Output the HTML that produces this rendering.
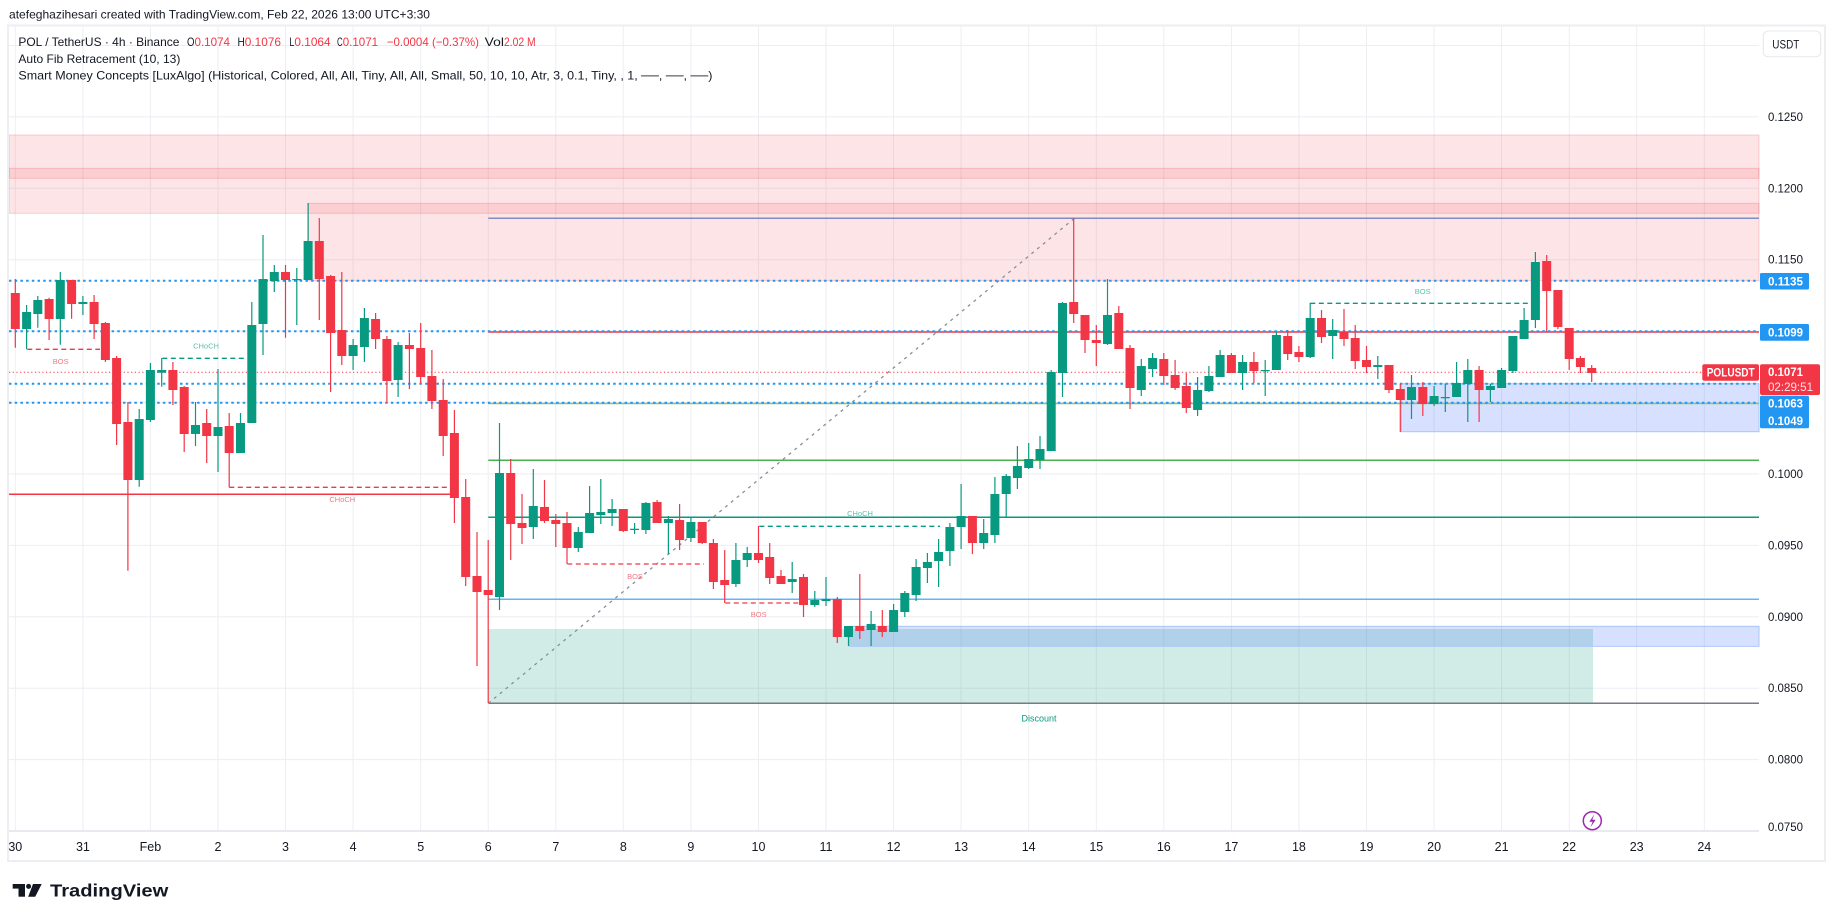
<!DOCTYPE html>
<html><head><meta charset="utf-8"><title>POLUSDT 4h chart</title>
<style>html,body{margin:0;padding:0;background:#fff;}svg{display:block;}</style>
</head><body>
<svg id="c" width="1835" height="921" viewBox="0 0 1835 921" xmlns="http://www.w3.org/2000/svg" font-family="'Liberation Sans', Arial, sans-serif">
<rect width="1835" height="921" fill="#ffffff"/>
<text x="9" y="18.5" font-size="12" fill="#131722" textLength="421" lengthAdjust="spacingAndGlyphs">atefeghazihesari created with TradingView.com, Feb 22, 2026 13:00 UTC+3:30</text>
<path stroke="#eceef2" stroke-width="1" fill="none" d="M15.3 26V831M82.9 26V831M150.4 26V831M218 26V831M285.5 26V831M353.1 26V831M420.7 26V831M488.2 26V831M555.8 26V831M623.3 26V831M690.9 26V831M758.5 26V831M826 26V831M893.6 26V831M961.1 26V831M1028.7 26V831M1096.3 26V831M1163.8 26V831M1231.4 26V831M1298.9 26V831M1366.5 26V831M1434.1 26V831M1501.6 26V831M1569.2 26V831M1636.7 26V831M1704.3 26V831"/>
<g stroke="#eceef2" stroke-width="1">
<line x1="9" x2="1759" y1="45.5" y2="45.5"/><line x1="9" x2="1759" y1="116.9" y2="116.9"/><line x1="9" x2="1759" y1="188.3" y2="188.3"/><line x1="9" x2="1759" y1="259.7" y2="259.7"/><line x1="9" x2="1759" y1="331.1" y2="331.1"/><line x1="9" x2="1759" y1="402.5" y2="402.5"/><line x1="9" x2="1759" y1="473.9" y2="473.9"/><line x1="9" x2="1759" y1="545.4" y2="545.4"/><line x1="9" x2="1759" y1="616.8" y2="616.8"/><line x1="9" x2="1759" y1="688.2" y2="688.2"/><line x1="9" x2="1759" y1="759.6" y2="759.6"/>
</g>
<line x1="9" x2="1759" y1="831" y2="831" stroke="#e0e3eb" stroke-width="1.5"/>
<g fill="rgba(242,54,69,0.13)" stroke="rgba(242,54,69,0.22)" stroke-width="1">
<rect x="9" y="135" width="1750" height="43.3"/>
<rect x="9" y="168.3" width="1750" height="45"/>
<rect x="308.3" y="203.3" width="1450.7" height="77.4"/>
</g>
<rect x="488.3" y="629" width="1104.7" height="74.3" fill="rgba(8,153,129,0.19)"/>
<g fill="rgba(41,98,255,0.19)" stroke="#a9c7f7" stroke-width="1">
<rect x="849.3" y="626.3" width="909.7" height="20"/>
<rect x="1401.3" y="383.7" width="357.7" height="48"/>
</g>
<g stroke-width="1.5">
<line x1="488.3" x2="1759" y1="218.3" y2="218.3" stroke="#7e8dc4"/>
<line x1="488.3" x2="1759" y1="332" y2="332" stroke="#F23645"/>
<line x1="488.3" x2="1759" y1="403.5" y2="403.5" stroke="#81c784"/>
<line x1="488.3" x2="1759" y1="460.3" y2="460.3" stroke="#4caf50"/>
<line x1="488.3" x2="1759" y1="517.3" y2="517.3" stroke="#089981"/>
<line x1="488.3" x2="1759" y1="599.3" y2="599.3" stroke="#64b5f6"/>
<line x1="488.3" x2="1759" y1="703.3" y2="703.3" stroke="#787b86"/>
</g>
<line x1="488.3" y1="703.3" x2="1074.3" y2="218.3" stroke="#8a8d96" stroke-width="1.3" stroke-dasharray="3 4.5"/>
<g stroke="#2196F3" stroke-width="2" stroke-dasharray="2.5 3.2">
<line x1="9" x2="1759" y1="280.7" y2="280.7"/>
<line x1="9" x2="1759" y1="331.3" y2="331.3"/>
<line x1="9" x2="1759" y1="383.7" y2="383.7"/>
<line x1="9" x2="1759" y1="402.7" y2="402.7"/>
</g>
<line x1="9" x2="1702" y1="372.3" y2="372.3" stroke="#F23645" stroke-width="1" stroke-dasharray="1.2 2.5"/>
<g stroke-width="1.3" stroke-dasharray="5 3.5" fill="none">
<line x1="27.3" x2="100" y1="349.3" y2="349.3" stroke="#F23645"/>
<line x1="162.3" x2="245" y1="358.3" y2="358.3" stroke="#089981"/>
<line x1="229.3" x2="451.7" y1="487.3" y2="487.3" stroke="#F23645"/>
<line x1="567.3" x2="704" y1="564" y2="564" stroke="#F23645"/>
<line x1="725.3" x2="800" y1="603" y2="603" stroke="#F23645"/>
<line x1="759.3" x2="940" y1="526.3" y2="526.3" stroke="#089981"/>
<line x1="1310.3" x2="1531.7" y1="303.3" y2="303.3" stroke="#089981"/>
</g>
<line x1="9" x2="451" y1="494.3" y2="494.3" stroke="#F23645" stroke-width="1.5"/>
<path fill="none" stroke="#089981" stroke-width="1.2" d="M26.6 305V349.3M37.8 296V327.7M60.3 272V344.7M82.9 296V315M139.2 409V486.7M150.4 363V422M161.7 358V386.7M195.5 402V446M218 369V472M240.5 413V453M251.8 302V423M263 235V355M274.3 265V292M296.8 268V325M308.1 203V280M353.1 339V370M364.4 308V362M398.1 342V397M499.5 423V610M533.3 469V539M578.3 527V552M589.6 486V533M600.8 479V524M612.1 499V526M634.6 523V534M645.9 502V534M668.4 516V554M690.9 518V542M735.9 543V587M747.2 547V567M792.2 562V593M814.8 591V607M826 577V606M848.5 626V646M871.1 611V646M893.6 604V632M904.8 591V617M916.1 559V601M927.4 553V583M938.6 539V587M949.9 523V566M961.1 484V549M983.7 519V549M994.9 477V543M1006.2 474V517M1017.4 446V489M1028.7 443V469M1040 436V469M1051.2 370V451M1062.5 302V397M1107.5 279V345M1141.3 359V396M1152.6 353V377M1197.6 377V416M1208.9 366V392M1220.1 350V377M1242.6 355V390M1265.2 360V396M1276.4 332V370M1310.2 303V358M1332.7 319V359M1377.8 356V379M1411.5 375V419M1434.1 386V406M1445.3 384V412M1456.6 362V397M1467.8 359V422M1490.4 384V402M1501.6 368V388M1512.9 336V373M1524.1 308V339M1535.4 252V328"/>
<path fill="#089981" d="M22.1 312h9v17h-9zM33.3 300h9v14h-9zM55.8 280h9v39h-9zM78.4 302h9v2h-9zM134.7 419h9v61h-9zM145.9 370h9v50h-9zM157.2 370h9v2.7h-9zM191 425h9v9h-9zM213.5 427h9v9h-9zM236 423h9v30h-9zM247.3 325h9v98h-9zM258.5 279h9v45h-9zM269.8 272h9v9h-9zM292.3 279h9v1.3h-9zM303.6 241h9v39h-9zM348.6 345h9v11h-9zM359.9 318h9v29h-9zM393.6 345h9v35h-9zM495 473h9v124h-9zM528.8 506h9v21h-9zM573.8 532h9v16h-9zM585.1 513h9v20h-9zM596.3 512h9v3h-9zM607.6 509h9v4h-9zM630.1 528.7h9v1.3h-9zM641.4 503h9v27h-9zM663.9 519h9v4h-9zM686.4 522h9v16h-9zM731.4 560h9v24h-9zM742.7 553h9v7h-9zM787.7 579h9v3h-9zM810.3 600h9v5h-9zM821.5 599h9v2h-9zM844 626h9v11h-9zM866.6 624h9v6h-9zM889.1 610h9v22h-9zM900.3 593h9v19h-9zM911.6 567h9v28h-9zM922.9 562h9v6h-9zM934.1 552h9v9h-9zM945.4 527h9v24h-9zM956.6 516h9v11h-9zM979.2 533h9v10h-9zM990.4 494h9v41h-9zM1001.7 476h9v18h-9zM1012.9 466h9v12h-9zM1024.2 459h9v9h-9zM1035.5 449h9v11h-9zM1046.7 372h9v79h-9zM1058 303h9v70h-9zM1103 315h9v29h-9zM1136.8 366h9v24h-9zM1148.1 358h9v11h-9zM1193.1 390h9v20h-9zM1204.4 376h9v15h-9zM1215.6 355h9v22h-9zM1238.1 362h9v11h-9zM1260.7 370h9v1.3h-9zM1271.9 335h9v35h-9zM1305.7 318h9v39h-9zM1328.2 330h9v6h-9zM1373.3 365h9v2h-9zM1407 387h9v13h-9zM1429.6 396h9v8h-9zM1440.8 397h9v1.3h-9zM1452.1 383h9v14h-9zM1463.3 370h9v14h-9zM1485.9 386h9v4h-9zM1497.1 370h9v18h-9zM1508.4 336h9v35h-9zM1519.6 320h9v19h-9zM1530.9 262h9v58h-9z"/>
<path fill="none" stroke="#F23645" stroke-width="1.2" d="M15.3 279V347.7M49.1 297.7V340M71.6 280V318.7M94.1 295V339M105.4 322V362M116.6 356V445M127.9 402V570.7M172.9 362V405M184.2 386V452M206.7 409V463M229.2 413V487.3M285.5 265V337.7M319.3 218V320M330.6 275V392M341.8 272V365M375.6 313V349M386.9 336V403M409.4 333V389M420.7 323V383M431.9 350V409M443.2 379V456M454.4 410V523M465.7 479V586M477 532V666M488.2 540V703M510.7 459V560M522 494V544M544.5 480V523M555.8 514V547M567 512V564M623.3 509V532M657.1 500V523M679.6 504V550M702.2 522V544M713.4 539V589M724.7 550V603M758.5 526V563M769.7 543V584M781 570V584M803.5 574V617M837.3 597V643M859.8 574V639M882.3 610V637M972.4 516V554M1073.7 218V323M1085 315V353M1096.3 325V366M1118.8 306V349M1130 345V409M1163.8 353V385M1175.1 360V390M1186.3 373V413M1231.4 353V373M1253.9 352V383M1287.7 330V360M1298.9 346V362M1321.5 310V343M1344 309V346M1355.2 325V369M1366.5 346V373M1389 365V393M1400.3 384V432M1422.8 382V416M1479.1 366V422M1546.7 255V332M1557.9 290V329M1569.2 328V370M1580.4 356V373M1591.7 365V382"/>
<path fill="#F23645" d="M10.8 293h9v36h-9zM44.6 299h9v20h-9zM67.1 280h9v24h-9zM89.6 302h9v22h-9zM100.9 323h9v37h-9zM112.1 358h9v66h-9zM123.4 422h9v58h-9zM168.4 370h9v20h-9zM179.7 387h9v47h-9zM202.2 423h9v13h-9zM224.7 426h9v27h-9zM281 272h9v8h-9zM314.8 241h9v38h-9zM326.1 276h9v57h-9zM337.3 330h9v26h-9zM371.1 319h9v20h-9zM382.4 339h9v42h-9zM404.9 345h9v4h-9zM416.2 348h9v29h-9zM427.4 376h9v25h-9zM438.7 400h9v36h-9zM449.9 433h9v65h-9zM461.2 497h9v80h-9zM472.5 576h9v16h-9zM483.7 590h9v5h-9zM506.2 473h9v51h-9zM517.5 523h9v5h-9zM540 507h9v14h-9zM551.3 520h9v4h-9zM562.5 523h9v25h-9zM618.8 509h9v22h-9zM652.6 502h9v21h-9zM675.1 520h9v20h-9zM697.7 522h9v21h-9zM708.9 543h9v39h-9zM720.2 580h9v5h-9zM754 553h9v7h-9zM765.2 557h9v21h-9zM776.5 576h9v8h-9zM799 577h9v28h-9zM832.8 599h9v38h-9zM855.3 626h9v5h-9zM877.8 626h9v6h-9zM967.9 516h9v27h-9zM1069.2 302h9v12h-9zM1080.5 315h9v25h-9zM1091.8 340h9v3h-9zM1114.3 313h9v36h-9zM1125.5 348h9v40h-9zM1159.3 359h9v17h-9zM1170.6 375h9v13h-9zM1181.8 386h9v22h-9zM1226.9 355h9v18h-9zM1249.4 362h9v9h-9zM1283.2 336h9v18h-9zM1294.4 352h9v5h-9zM1317 318h9v19h-9zM1339.5 332h9v7h-9zM1350.7 338h9v23h-9zM1362 360h9v7h-9zM1384.5 365h9v25h-9zM1395.8 389h9v11h-9zM1418.3 387h9v17h-9zM1474.6 370h9v20h-9zM1542.2 261h9v30h-9zM1553.4 290h9v37h-9zM1564.7 328h9v31h-9zM1575.9 358h9v9h-9zM1587.2 368h9v5h-9z"/>
<g font-size="7.5" text-anchor="middle">
<text x="60.7" y="364" fill="#f27782">BOS</text>
<text x="206" y="348.4" fill="#5cbfa8">CHoCH</text>
<text x="342.3" y="502" fill="#f27782">CHoCH</text>
<text x="635" y="579" fill="#f27782">BOS</text>
<text x="758.7" y="617" fill="#f27782">BOS</text>
<text x="860" y="516" fill="#5cbfa8">CHoCH</text>
<text x="1422.7" y="294" fill="#5cbfa8">BOS</text>
<text x="1039" y="721.5" font-size="9" fill="#089981">Discount</text>
</g>
<rect x="8" y="25.5" width="1817" height="835.5" fill="none" stroke="#eceef2" stroke-width="2"/>
<g font-size="12" fill="#131722">
<text x="18.4" y="46.2" textLength="161" lengthAdjust="spacingAndGlyphs">POL / TetherUS · 4h · Binance</text>
<text x="187" y="46.2" textLength="7.5" lengthAdjust="spacingAndGlyphs">O</text>
<text x="194.5" y="46.2" fill="#F23645" textLength="35.5" lengthAdjust="spacingAndGlyphs">0.1074</text>
<text x="237.5" y="46.2" textLength="7.3" lengthAdjust="spacingAndGlyphs">H</text>
<text x="244.8" y="46.2" fill="#F23645" textLength="36.2" lengthAdjust="spacingAndGlyphs">0.1076</text>
<text x="289.4" y="46.2" textLength="5" lengthAdjust="spacingAndGlyphs">L</text>
<text x="294.4" y="46.2" fill="#F23645" textLength="36.2" lengthAdjust="spacingAndGlyphs">0.1064</text>
<text x="337" y="46.2" textLength="5.7" lengthAdjust="spacingAndGlyphs">C</text>
<text x="342.7" y="46.2" fill="#F23645" textLength="35.4" lengthAdjust="spacingAndGlyphs">0.1071</text>
<text x="386.8" y="46.2" fill="#F23645" textLength="92.2" lengthAdjust="spacingAndGlyphs">−0.0004 (−0.37%)</text>
<text x="484.7" y="46.2" textLength="19.3" lengthAdjust="spacingAndGlyphs">Vol</text>
<text x="504" y="46.2" fill="#F23645" textLength="31.6" lengthAdjust="spacingAndGlyphs">2.02 M</text>
<text x="18.4" y="62.8" textLength="162" lengthAdjust="spacingAndGlyphs">Auto Fib Retracement (10, 13)</text>
<text x="18.4" y="79.6" textLength="694" lengthAdjust="spacingAndGlyphs">Smart Money Concepts [LuxAlgo] (Historical, Colored, All, All, Tiny, All, All, Small, 50, 10, 10, Atr, 3, 0.1, Tiny, , 1, ──, ──, ──)</text>
</g>
<rect x="1763.3" y="31" width="57.4" height="25.7" rx="5" fill="#fff" stroke="#e6e8ed" stroke-width="1"/>
<text x="1785.8" y="48.5" font-size="12" fill="#131722" text-anchor="middle" textLength="27" lengthAdjust="spacingAndGlyphs">USDT</text>
<g font-size="11.5" fill="#131722">
<text x="1768" y="121" textLength="35" lengthAdjust="spacingAndGlyphs">0.1250</text>
<text x="1768" y="192.3" textLength="35" lengthAdjust="spacingAndGlyphs">0.1200</text>
<text x="1768" y="263.7" textLength="35" lengthAdjust="spacingAndGlyphs">0.1150</text>
<text x="1768" y="477.9" textLength="35" lengthAdjust="spacingAndGlyphs">0.1000</text>
<text x="1768" y="549.4" textLength="35" lengthAdjust="spacingAndGlyphs">0.0950</text>
<text x="1768" y="620.8" textLength="35" lengthAdjust="spacingAndGlyphs">0.0900</text>
<text x="1768" y="692.2" textLength="35" lengthAdjust="spacingAndGlyphs">0.0850</text>
<text x="1768" y="763.6" textLength="35" lengthAdjust="spacingAndGlyphs">0.0800</text>
<text x="1768" y="831" textLength="35" lengthAdjust="spacingAndGlyphs">0.0750</text>
</g>
<rect x="1760" y="273" width="49" height="16.5" rx="1.5" fill="#2196F3"/>
<rect x="1760" y="324" width="49" height="16.7" rx="1.5" fill="#2196F3"/>
<rect x="1702.3" y="364.3" width="56.7" height="16.4" rx="2" fill="#F23645"/>
<rect x="1760" y="364.3" width="60" height="30.7" rx="2" fill="#F23645"/>
<rect x="1760" y="395.7" width="49" height="32.6" rx="1.5" fill="#2196F3"/>
<g font-size="11.5" fill="#ffffff" font-weight="bold">
<text x="1768" y="285.5" textLength="35" lengthAdjust="spacingAndGlyphs">0.1135</text>
<text x="1768" y="336.6" textLength="35" lengthAdjust="spacingAndGlyphs">0.1099</text>
<text x="1706.7" y="376.6" textLength="48" lengthAdjust="spacingAndGlyphs">POLUSDT</text>
<text x="1768" y="376" textLength="35" lengthAdjust="spacingAndGlyphs">0.1071</text>
<text x="1768" y="407.6" textLength="35" lengthAdjust="spacingAndGlyphs">0.1063</text>
<text x="1768" y="425" textLength="35" lengthAdjust="spacingAndGlyphs">0.1049</text>
</g>
<text x="1768" y="391" font-size="11.5" fill="#fde3e5" textLength="45" lengthAdjust="spacingAndGlyphs">02:29:51</text>
<g font-size="12.5" fill="#131722" text-anchor="middle">
<text x="15.3" y="851">30</text><text x="82.9" y="851">31</text><text x="150.4" y="851">Feb</text><text x="218" y="851">2</text><text x="285.5" y="851">3</text><text x="353.1" y="851">4</text><text x="420.7" y="851">5</text><text x="488.2" y="851">6</text><text x="555.8" y="851">7</text><text x="623.3" y="851">8</text><text x="690.9" y="851">9</text><text x="758.5" y="851">10</text><text x="826" y="851">11</text><text x="893.6" y="851">12</text><text x="961.1" y="851">13</text><text x="1028.7" y="851">14</text><text x="1096.3" y="851">15</text><text x="1163.8" y="851">16</text><text x="1231.4" y="851">17</text><text x="1298.9" y="851">18</text><text x="1366.5" y="851">19</text><text x="1434.1" y="851">20</text><text x="1501.6" y="851">21</text><text x="1569.2" y="851">22</text><text x="1636.7" y="851">23</text><text x="1704.3" y="851">24</text>
</g>
<circle cx="1592.3" cy="820.7" r="9" fill="#fff" stroke="#9c27b0" stroke-width="1.5"/>
<path d="M1594.3,814.5 L1589.3,821.8 L1592.6,821.8 L1590.6,827.3 L1595.6,819.8 L1592.3,819.8 Z" fill="#9c27b0"/>
<g fill="#131722">
<rect x="12.7" y="884" width="12.3" height="4.6"/>
<rect x="18.5" y="884" width="6.5" height="12.7"/>
<circle cx="28.6" cy="886.4" r="2.5"/>
<path d="M33,884 L41.7,884 L35.2,896.7 L28.2,896.7 Z"/>
</g>
<text x="50" y="896.7" font-size="17.5" font-weight="bold" fill="#131722" textLength="118.3" lengthAdjust="spacingAndGlyphs">TradingView</text>
</svg>
</body></html>
